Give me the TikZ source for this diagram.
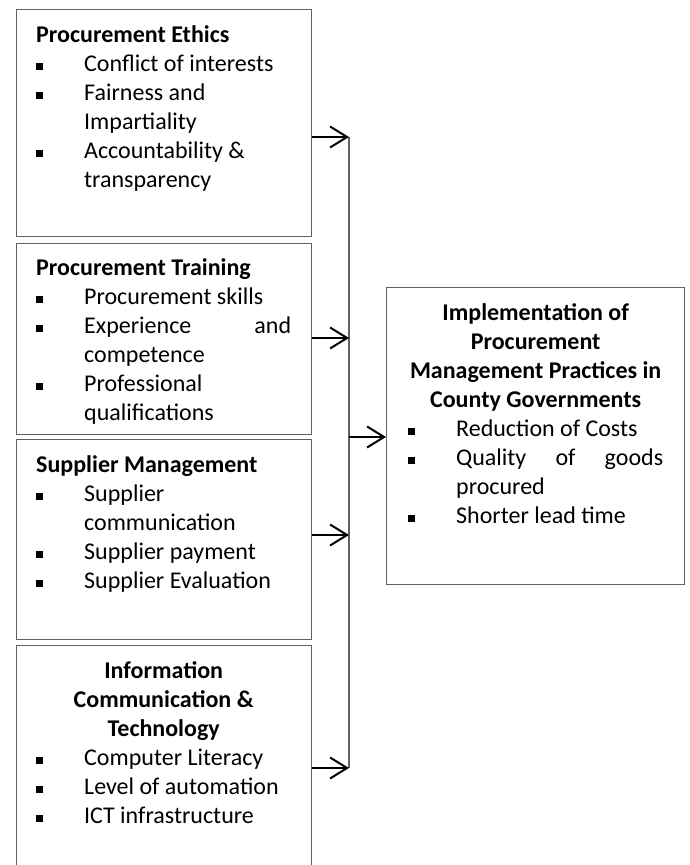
\documentclass[tikz,border=0pt]{standalone}
\usepackage{fontspec}
\setmainfont{Carlito}
\usetikzlibrary{arrows.meta}

% square bullet with the item text hanging after it
\newcommand{\itm}{\par\noindent\hangindent=48pt\hangafter=1%
  \makebox[48pt][l]{\rule[1.5pt]{6.5pt}{6.5pt}}}
\newcommand{\ttl}[1]{\noindent\strut{\bfseries #1}}

\tikzset{
  frame/.style={draw=black!62, line width=1.4pt, anchor=north west,
    inner sep=0pt},
  txt/.style={anchor=north west, inner sep=0pt, text width=255pt,
    align=justify, font=\fontsize{24}{29}\selectfont},
  link/.style={line width=2pt, -{Straight Barb[length=17pt,width=21pt,line width=2pt]}},
  rail/.style={draw=black!62, line width=1.4pt}
}

\begin{document}
\begin{tikzpicture}[x=1pt,y=-1pt]
\useasboundingbox (0,0) rectangle (689,865);

% frames of the four factor boxes and of the outcome box
\node[frame, minimum width=295pt, minimum height=227pt] (b1) at (16,9) {};
\node[frame, minimum width=295pt, minimum height=191pt] (b2) at (16,243) {};
\node[frame, minimum width=295pt, minimum height=200pt] (b3) at (16,439) {};
\node[frame, minimum width=295pt, minimum height=260pt] (b4) at (16,645) {};
\node[frame, minimum width=298pt, minimum height=297pt] (out) at (386,287) {};

% texts
\node[txt] (t1) at (36,21.7) {\ttl{Procurement Ethics}
  \itm Conflict of interests
  \itm Fairness and\newline Impartiality
  \itm Accountability \&\newline transparency\par};

\node[txt] (t2) at (36,254.7) {\ttl{Procurement Training}
  \itm Procurement skills
  \itm Experience\hfill and\newline competence
  \itm Professional\newline qualifications\par};

\node[txt] (t3) at (36,451.7) {\ttl{Supplier Management}
  \itm Supplier\newline communication
  \itm Supplier payment
  \itm Supplier Evaluation\par};

\node[txt] (t4) at (36,657.7) {\strut{\centering\bfseries Information\\
  Communication \&\\ Technology\par}
  \itm Computer Literacy
  \itm Level of automation
  \itm ICT infrastructure\par};

\node[txt] (t5) at (408,299.7) {\strut{\centering\bfseries Implementation of\\
  Procurement\\ Management Practices in\\ County Governments\par}
  \itm Reduction of Costs
  \itm Quality\hfill of\hfill goods\newline procured
  \itm Shorter lead time\par};

% collecting rail and connectors
\coordinate (r1) at (349,137);
\coordinate (r2) at (349,338);
\coordinate (r3) at (349,535);
\coordinate (r4) at (349,768);
\coordinate (rm) at (349,437);

\draw[rail] (r1) -- (r4);
\draw[link] (b1.east |- r1) -- (r1);
\draw[link] (b2.east |- r2) -- (r2);
\draw[link] (b3.east |- r3) -- (r3);
\draw[link] (b4.east |- r4) -- (r4);
\draw[link] (rm) -- (out.west |- rm);
\end{tikzpicture}
\end{document}
